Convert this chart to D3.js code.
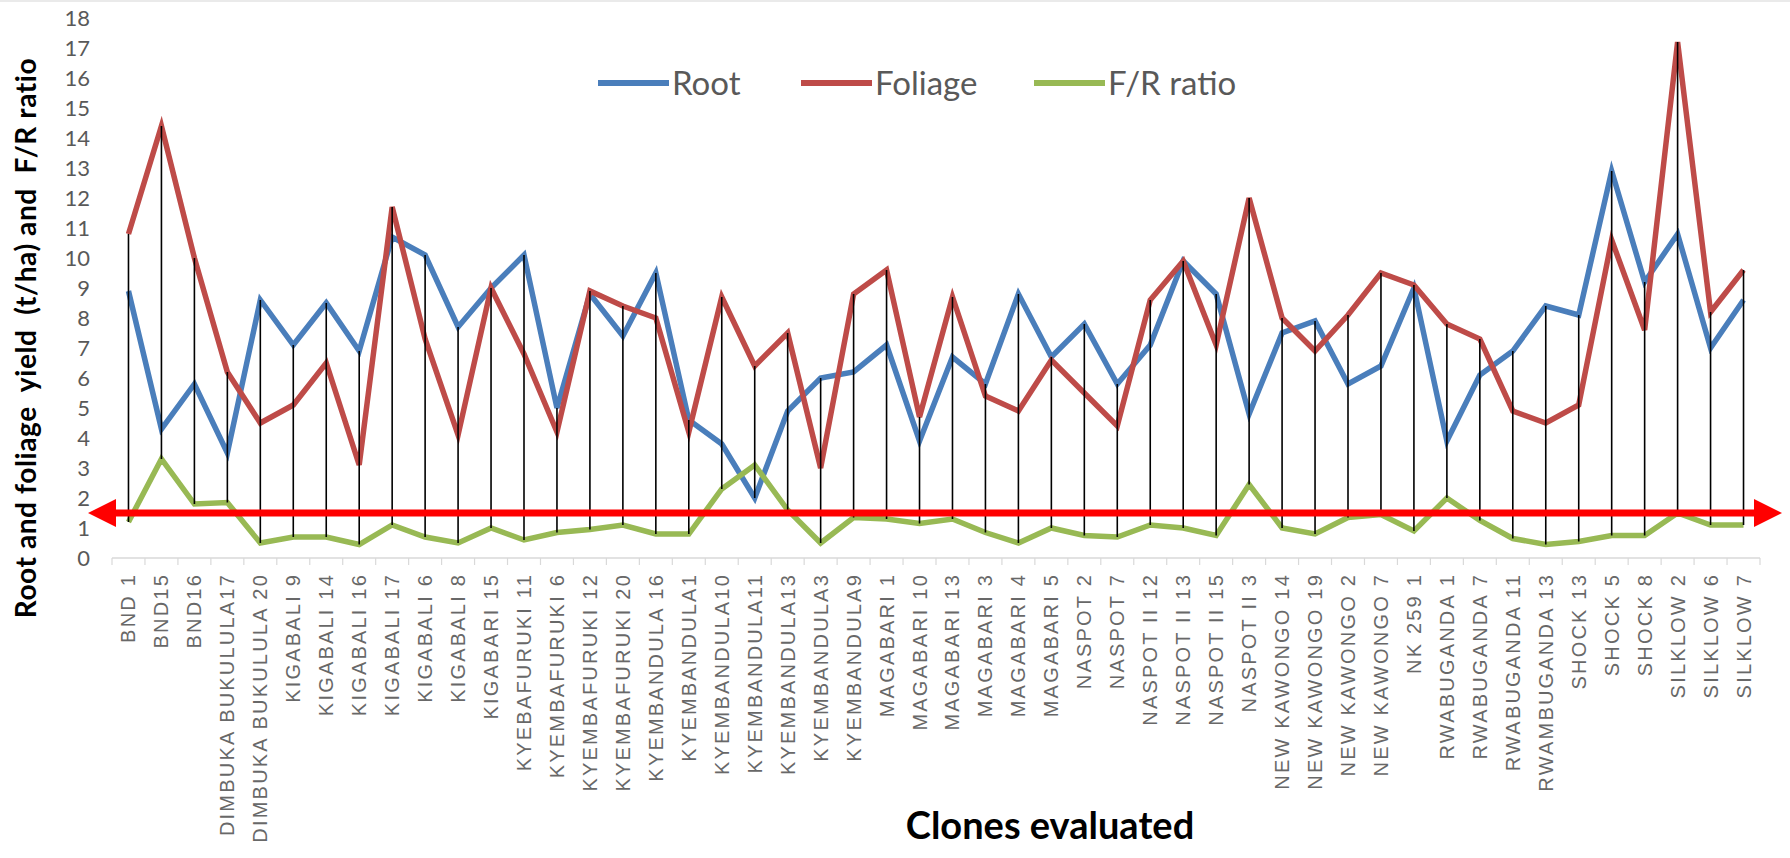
<!DOCTYPE html>
<html>
<head>
<meta charset="utf-8">
<script src="https://cdn.jsdelivr.net/npm/d3@7"></script>
<style>
  html, body { margin: 0; padding: 0; background: #fff; }
  svg { display: block; }
</style>
</head>
<body>
<svg id="chart" width="1790" height="858"></svg>
<script>
// Sweet potato clones evaluated for root and foliage yield
const clones = [
  "BND 1", "BND15", "BND16", "DIMBUKA BUKULULA17", "DIMBUKA BUKULULA 20",
  "KIGABALI  9", "KIGABALI 14", "KIGABALI 16", "KIGABALI 17", "KIGABALI 6",
  "KIGABALI 8", "KIGABARI 15", "KYEBAFURUKI  11", "KYEMBAFURUKI  6", "KYEMBAFURUKI 12",
  "KYEMBAFURUKI 20", "KYEMBANDULA  16", "KYEMBANDULA1", "KYEMBANDULA10", "KYEMBANDULA11",
  "KYEMBANDULA13", "KYEMBANDULA3", "KYEMBANDULA9", "MAGABARI 1", "MAGABARI 10",
  "MAGABARI 13", "MAGABARI 3", "MAGABARI 4", "MAGABARI 5", "NASPOT  2",
  "NASPOT 7", "NASPOT II 12", "NASPOT II 13", "NASPOT II 15", "NASPOT II 3",
  "NEW KAWONGO 14", "NEW KAWONGO 19", "NEW KAWONGO 2", "NEW KAWONGO 7", "NK 259 1",
  "RWABUGANDA  1", "RWABUGANDA  7", "RWABUGANDA 11", "RWAMBUGANDA 13", "SHOCK 13",
  "SHOCK 5", "SHOCK 8", "SILKLOW 2", "SILKLOW 6", "SILKLOW 7"
];

// Root yield (t/ha)
const rootYield = [
  8.9, 4.3, 5.8, 3.5, 8.6, 7.1, 8.5, 6.9, 10.7, 10.1,
  7.7, 9.0, 10.1, 5.0, 8.8, 7.4, 9.5, 4.6, 3.8, 2.0,
  4.9, 6.0, 6.2, 7.1, 3.9, 6.7, 5.8, 8.8, 6.7, 7.8,
  5.8, 7.1, 9.9, 8.8, 4.8, 7.5, 7.9, 5.8, 6.4, 9.0,
  3.9, 6.1, 6.9, 8.4, 8.1, 12.9, 9.2, 10.8, 7.0, 8.6
];

// Foliage yield (t/ha)
const foliageYield = [
  10.8, 14.4, 10.0, 6.2, 4.5, 5.1, 6.5, 3.1, 11.7, 7.3,
  4.1, 9.0, 6.8, 4.2, 8.9, 8.4, 8.0, 4.2, 8.7, 6.4,
  7.5, 3.0, 8.8, 9.6, 4.7, 8.7, 5.4, 4.9, 6.6, 5.5,
  4.4, 8.6, 9.9, 7.1, 12.0, 8.0, 6.9, 8.1, 9.5, 9.1,
  7.8, 7.3, 4.9, 4.5, 5.1, 10.6, 7.6, 17.2, 8.2, 9.6
];

// Foliage / root ratio
const frRatio = [
  1.2, 3.3, 1.8, 1.85, 0.5, 0.7, 0.7, 0.45, 1.1, 0.7,
  0.5, 1.0, 0.6, 0.85, 0.95, 1.1, 0.8, 0.8, 2.3, 3.1,
  1.6, 0.5, 1.35, 1.3, 1.15, 1.3, 0.85, 0.5, 1.0, 0.75,
  0.7, 1.1, 1.0, 0.75, 2.45, 1.0, 0.8, 1.35, 1.45, 0.9,
  2.0, 1.25, 0.65, 0.45, 0.55, 0.75, 0.75, 1.5, 1.1, 1.1
];

const yTicks = d3.range(0, 19, 1);
const ratioThreshold = 1.5;

const seriesNames = ["Root", "Foliage", "F/R ratio"];
const seriesColors = ["#4a7ebb", "#be4b48", "#98b954"];
const seriesValues = [rootYield, foliageYield, frRatio];

const svg = d3.select("#chart");

const x = d3.scaleBand().domain(clones).range([112, 1760]);
const y = d3.scaleLinear().domain([0, 18]).range([558, 18]);
const cx = d => x(d) + x.bandwidth() / 2;

// faint frame line along the top
svg.append("line")
  .attr("x1", 0).attr("x2", 1790).attr("y1", 1).attr("y2", 1)
  .attr("stroke", "#e3e3e3").attr("stroke-width", 1.5);

// category axis
const xAxisG = svg.append("g").attr("transform", `translate(0,${y(0)})`);
xAxisG.append("line")
  .attr("x1", x.range()[0]).attr("x2", x.range()[1])
  .attr("stroke", "#d9d9d9").attr("stroke-width", 1.5);
const bounds = clones.map(c => x(c)).concat([x.range()[1]]);
xAxisG.selectAll("line.tick").data(bounds).join("line")
  .attr("class", "tick")
  .attr("x1", d => d).attr("x2", d => d)
  .attr("y1", 0).attr("y2", 7)
  .attr("stroke", "#d9d9d9").attr("stroke-width", 1.2);
xAxisG.selectAll("text").data(clones).join("text")
  .attr("transform", d => `translate(${cx(d)},15) rotate(-90)`)
  .attr("dy", "0.35em")
  .attr("text-anchor", "end")
  .attr("font-family", "Liberation Sans, Arial, sans-serif")
  .attr("font-size", 20)
  .attr("letter-spacing", "2.2px")
  .attr("fill", "#686868")
  .text(d => d);

// value axis labels
svg.append("g").selectAll("text").data(yTicks).join("text")
  .attr("x", 90).attr("y", d => y(d))
  .attr("dy", "0.35em")
  .attr("text-anchor", "end")
  .attr("font-family", "Lato, sans-serif")
  .attr("font-size", 22)
  .attr("fill", "#595959")
  .text(d => d);

// series lines
seriesValues.forEach((vals, i) => {
  const line = d3.line()
    .x((v, j) => cx(clones[j]))
    .y(v => y(v));
  svg.append("path")
    .datum(vals)
    .attr("d", line)
    .attr("fill", "none")
    .attr("stroke", seriesColors[i])
    .attr("stroke-width", 5.5)
    .attr("stroke-linejoin", "miter");
});

// high-low lines
svg.append("g").selectAll("line").data(clones).join("line")
  .attr("x1", d => cx(d)).attr("x2", d => cx(d))
  .attr("y1", (d, j) => y(d3.max(seriesValues, s => s[j])))
  .attr("y2", (d, j) => y(d3.min(seriesValues, s => s[j])))
  .attr("stroke", "#000").attr("stroke-width", 1.6);

// threshold arrow across the chart
const ty = y(ratioThreshold);
const arrow = svg.append("g").attr("fill", "#ff0000");
arrow.append("line")
  .attr("x1", 110).attr("x2", 1760).attr("y1", ty).attr("y2", ty)
  .attr("stroke", "#ff0000").attr("stroke-width", 7);
arrow.append("path")
  .attr("d", `M88,${ty} L116,${ty - 14} L116,${ty + 14} Z`);
arrow.append("path")
  .attr("d", `M1782,${ty} L1754,${ty - 14} L1754,${ty + 14} Z`);

// legend
const legendX = [598, 801, 1034];
const legend = svg.append("g");
seriesNames.forEach((name, i) => {
  const g = legend.append("g").attr("transform", `translate(${legendX[i]},83)`);
  g.append("line").attr("x1", 0).attr("x2", 71).attr("y1", 0).attr("y2", 0)
    .attr("stroke", seriesColors[i]).attr("stroke-width", 6);
  g.append("text").attr("x", 74).attr("y", 0).attr("dy", "0.36em")
    .attr("font-family", "Lato, sans-serif")
    .attr("font-size", 33)
    .attr("fill", "#595959")
    .text(name);
});

// axis titles
svg.append("text")
  .attr("transform", "translate(36,338) rotate(-90)")
  .attr("text-anchor", "middle")
  .attr("font-family", "Lato, sans-serif")
  .attr("font-weight", "bold")
  .attr("font-size", 28)
  .attr("letter-spacing", "0.6px")
  .attr("fill", "#000")
  .attr("xml:space", "preserve")
  .style("white-space", "pre")
  .text("Root and foliage  yield  (t/ha) and  F/R ratio");

svg.append("text")
  .attr("x", 1050).attr("y", 839)
  .attr("text-anchor", "middle")
  .attr("font-family", "Lato, sans-serif")
  .attr("font-weight", "bold")
  .attr("font-size", 38)
  .attr("fill", "#000")
  .text("Clones evaluated");
</script>
</body>
</html>
